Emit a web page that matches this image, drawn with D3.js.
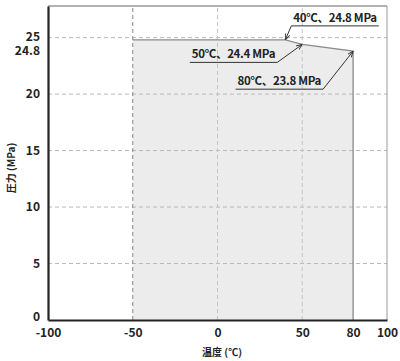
<!DOCTYPE html>
<html>
<head>
<meta charset="utf-8">
<script src="https://cdn.jsdelivr.net/npm/d3@7"></script>
<style>
  body { margin: 0; background: #fff; }
  text { font-family: "Noto Sans CJK JP", "Noto Sans", sans-serif; fill: #222; }
</style>
</head>
<body>
<svg id="chart" width="400" height="361"></svg>
<script>
// operating range: temperature (℃) vs pressure (MPa)
var temps = [-50, 40, 50, 80];
var pressures = [24.8, 24.8, 24.4, 23.8];
var xTicks = [-100, -50, 0, 50, 80, 100];
var yTicks = [0, 5, 10, 15, 20, 25];
var xGrid = [-50, 0, 50];
var yGrid = [5, 10, 15, 20, 25];
var noteIdx = [1, 2, 3];
var noteLabels = ["40\u2103\u300124.8 MPa", "50\u2103\u300124.4 MPa", "80\u2103\u300123.8 MPa"];

var svg = d3.select("#chart");
var x = d3.scaleLinear().domain([-100, 100]).range([48, 387]);
var y = d3.scaleLinear().domain([0, 27.8]).range([320, 6]);

// shaded area
var pts = temps.map(function (t, i) { return [x(t), y(pressures[i])]; });
var area = [[x(temps[0]), y(0)]].concat(pts).concat([[x(temps[temps.length - 1]), y(0)]]);
svg.append("path")
    .attr("d", d3.line()(area) + "Z")
    .attr("fill", "#ececec");

// grid
svg.selectAll(".hg").data(yGrid).enter().append("line")
    .attr("x1", x(-100)).attr("x2", x(100))
    .attr("y1", function (d) { return y(d); }).attr("y2", function (d) { return y(d); })
    .attr("stroke", "#b8b8b8").attr("stroke-dasharray", "4,3");
svg.selectAll(".vg").data(xGrid).enter().append("line")
    .attr("y1", y(0)).attr("y2", y(27.8))
    .attr("x1", function (d) { return x(d); }).attr("x2", function (d) { return x(d); })
    .attr("stroke", function (d, i) { return i === 0 ? "#888" : "#c4c4c4"; })
    .attr("stroke-dasharray", "4,3");

// boundary line of the range (top and right side)
var edge = pts.concat([[x(temps[temps.length - 1]), y(0)]]);
svg.append("path")
    .attr("d", d3.line()(edge))
    .attr("fill", "none").attr("stroke", "#8a8a8a").attr("stroke-width", 1.3);

// frame
svg.append("line").attr("x1", x(-100)).attr("x2", x(100)).attr("y1", y(27.8)).attr("y2", y(27.8))
    .attr("stroke", "#666").attr("stroke-width", 1.2);
svg.append("line").attr("x1", x(100)).attr("x2", x(100)).attr("y1", y(27.8)).attr("y2", y(0))
    .attr("stroke", "#999").attr("stroke-width", 1);

// axes
var fmt = function (d) { return String(d); };
var xAxis = d3.axisBottom(x).tickValues(xTicks).tickFormat(fmt).tickSize(0).tickPadding(8);
var yAxis = d3.axisLeft(y).tickValues(yTicks).tickFormat(fmt).tickSize(0).tickPadding(8);
var gx = svg.append("g").attr("transform", "translate(0," + y(0) + ")").call(xAxis);
var gy = svg.append("g").attr("transform", "translate(" + x(-100) + ",0)").call(yAxis);
[gx, gy].forEach(function (g) {
    g.select(".domain").attr("stroke", "#222").attr("stroke-width", 2.2);
    g.selectAll("text").attr("font-size", 12).attr("font-weight", 600).style("fill", "#222")
        .attr("font-family", "\"Noto Sans CJK JP\", sans-serif");
});
// the 0 label sits a little above the axis line, 25 is nudged up to make room for 24.8
gy.selectAll("text").filter(function (d) { return d === 0; }).attr("dy", "0em");
gy.selectAll("text").filter(function (d) { return d === 25; }).attr("dy", "0.2em");

// extra label for the max pressure, pushed down to avoid the 25 label
svg.append("text")
    .attr("x", x(-100) - 8).attr("y", y(24.8) + 15)
    .attr("text-anchor", "end")
    .attr("font-size", 12).attr("font-weight", 600)
    .text("24.8");

// axis titles
svg.append("text")
    .attr("x", 222).attr("y", 356)
    .attr("text-anchor", "middle")
    .attr("font-size", 10).attr("font-weight", 600)
    .text("\u6e29\u5ea6 (\u2103)");
svg.append("text")
    .attr("transform", "translate(15," + 168 + ") rotate(-90)")
    .attr("text-anchor", "middle")
    .attr("font-size", 10).attr("font-weight", 600)
    .text("\u5727\u529b (MPa)");

// arrow marker
svg.append("defs").append("marker")
    .attr("id", "arr").attr("viewBox", "0 0 10 10")
    .attr("refX", 10).attr("refY", 5)
    .attr("markerWidth", 6).attr("markerHeight", 6)
    .attr("orient", "auto")
    .append("path").attr("d", "M0,1 L10,5 L0,9")
    .attr("fill", "none").attr("stroke", "#333").attr("stroke-width", 1.5);

// annotations: offset of underline's joining end from the point, and which way the underline runs
var noteDx = [6, -25, -30];
var noteDy = [-14, 18, 38];
var noteDir = [1, -1, -1];

noteIdx.forEach(function (k, i) {
    var px = x(temps[k]), py = y(pressures[k]);
    var jx = px + noteDx[i], jy = py + noteDy[i];
    var t = svg.append("text")
        .attr("font-size", 11.5).attr("font-weight", 600)
        .attr("letter-spacing", -0.3)
        .text(noteLabels[i]);
    var w = t.node().getComputedTextLength() + 4;
    var x0 = noteDir[i] > 0 ? jx : jx - w;
    t.attr("x", x0 + 2).attr("y", jy - 4);
    svg.append("line")
        .attr("x1", x0).attr("x2", x0 + w).attr("y1", jy).attr("y2", jy)
        .attr("stroke", "#333").attr("stroke-width", 1);
    svg.append("line")
        .attr("x1", jx).attr("y1", jy).attr("x2", px).attr("y2", py)
        .attr("stroke", "#333").attr("stroke-width", 1)
        .attr("marker-end", "url(#arr)");
});
</script>
</body>
</html>
